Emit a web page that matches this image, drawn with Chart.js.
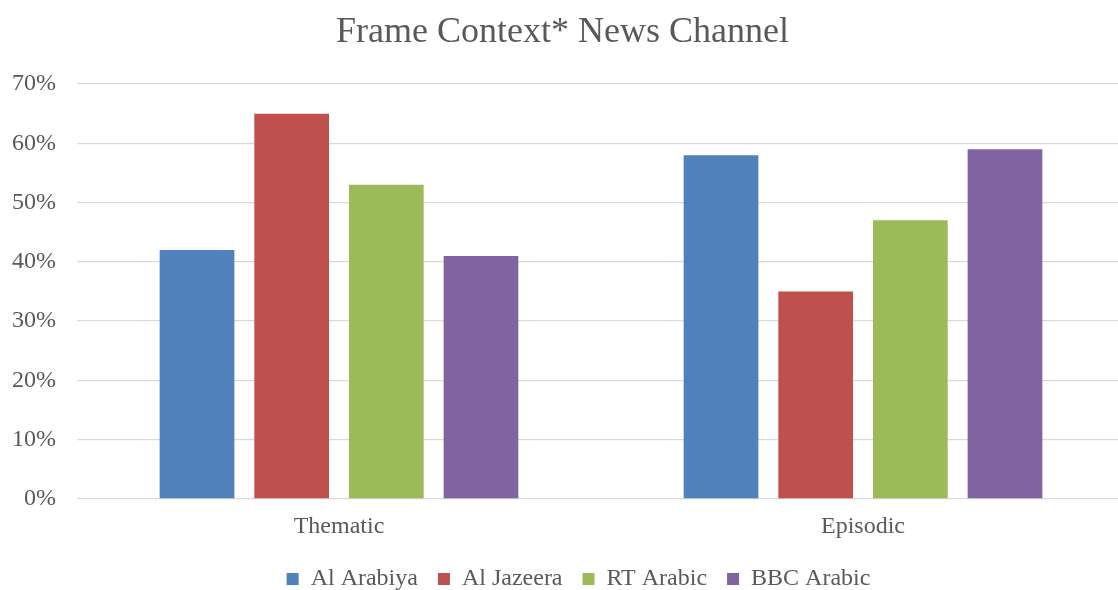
<!DOCTYPE html>
<html>
<head>
<meta charset="utf-8">
<script src="https://cdn.jsdelivr.net/npm/chart.js@4/dist/chart.umd.min.js"></script>
<style>
  html, body { margin: 0; padding: 0; background: #fff; overflow: hidden; }
  #wrap { width: 1118px; height: 590px; overflow: hidden; }
  canvas { display: block; }
</style>
</head>
<body>
<div id="wrap"><canvas id="myChart" width="1125" height="610"></canvas></div>
<script>
const categories = ["Thematic", "Episodic"];
const channels = ["Al Arabiya", "Al Jazeera", "RT Arabic", "BBC Arabic"];
const alArabiya = [42, 58];
const alJazeera = [65, 35];
const rtArabic = [53, 47];
const bbcArabic = [41, 59];
const colors = ["#4F81BD", "#C0504D", "#9BBB59", "#8064A2"];

const serif = "'Liberation Serif', 'Times New Roman', serif";
const grey = "#595959";

const seriesValues = [alArabiya, alJazeera, rtArabic, bbcArabic];

// nudge the legend a bit to the right, like the original
const legendShift = {
  id: "legendShift",
  beforeDraw(chart) {
    if (chart.legend) chart.legend.left = 32;
  },
};

const ctx = document.getElementById("myChart").getContext("2d");
const myChart = new Chart(ctx, {
  type: "bar",
  data: {
    labels: categories,
    datasets: channels.map((name, i) => ({
      label: name,
      data: seriesValues[i],
      backgroundColor: colors[i],
      borderWidth: 0,
      categoryPercentage: 0.7226,
      barPercentage: 0.789,
    })),
  },
  plugins: [legendShift],
  options: {
    responsive: false,
    animation: false,
    devicePixelRatio: 1,
    layout: { padding: { bottom: 9 } },
    plugins: {
      title: {
        display: true,
        text: "Frame Context* News Channel",
        color: grey,
        font: { family: serif, size: 36, weight: "normal", lineHeight: 1.2 },
        padding: { top: 11, bottom: 29.8 },
      },
      legend: {
        position: "bottom",
        labels: {
          color: grey,
          font: { family: serif, size: 24 },
          boxWidth: 12,
          boxHeight: 12,
          padding: 20,
        },
      },
      tooltip: { enabled: false },
    },
    scales: {
      x: {
        grid: { display: false },
        border: { display: false },
        ticks: { color: grey, font: { family: serif, size: 24 }, padding: 5 },
        afterFit: (scale) => { scale.height = 48; },
      },
      y: {
        min: 0,
        max: 70,
        ticks: {
          stepSize: 10,
          color: grey,
          font: { family: serif, size: 24 },
          padding: 21,
          callback: (v) => v + "%",
        },
        grid: { color: "#D9D9D9", lineWidth: 1.3, drawTicks: false },
        border: { display: false },
        afterFit: (scale) => { scale.width = 77; },
      },
    },
  },
});
</script>
</body>
</html>
